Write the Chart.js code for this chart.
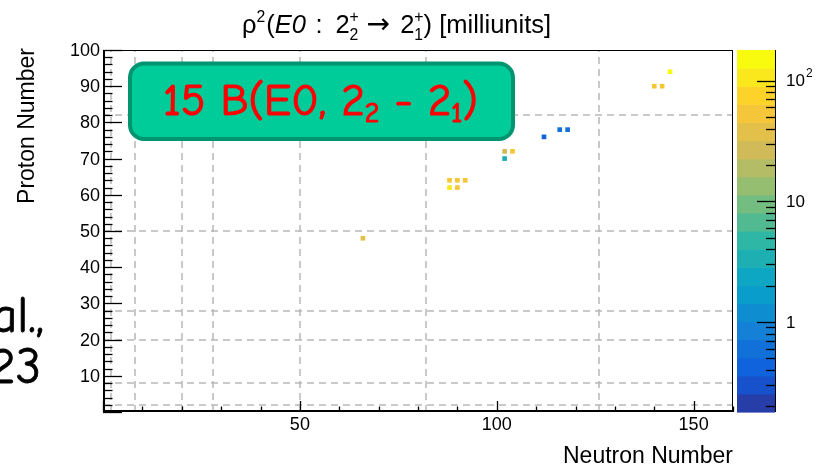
<!DOCTYPE html>
<html>
<head>
<meta charset="utf-8">
<script src="https://cdn.jsdelivr.net/npm/chart.js@4.4.0/dist/chart.umd.min.js"></script>
<style>
  html, body { margin: 0; padding: 0; background: #ffffff; overflow: hidden; }
  canvas { display: block; }
</style>
</head>
<body>
<canvas id="chart" width="823" height="467"></canvas>
<script>
// Even-even nuclei with a measured E0(2_2+ -> 2_1+) strength
const neutronNumber = [66, 88, 90, 92, 88, 90, 102, 102, 104, 112, 116, 118, 140, 142, 144];
const protonNumber  = [48, 64, 64, 64, 62, 62,  70,  72,  72,  76,  78,  78,  90,  90,  94];
// rho^2(E0) in milliunits
const rho2          = [38, 55, 55, 55, 105, 55, 3.4, 27, 55, 0.45, 0.55, 0.65, 55, 55, 150];

// Shell closures marked by dashed lines
const magicN = [2, 8, 20, 28, 50, 82, 126];
const magicZ = [2, 8, 20, 28, 50, 82];

// Axis ticks
const xMajorTicks = [0, 50, 100, 150];
const xTickLabels = [50, 100, 150];
const yTickLabels = [10, 20, 30, 40, 50, 60, 70, 80, 90, 100];
const zTickValues = [1, 10, 100];
const zTickText   = ['1', '10', '10'];
const zTickSup    = ['', '', '2'];

// Colour scale (log z, 20 contour levels, "bird" palette)
const zMin = 0.179, zMax = 179, nContours = 20;
const birdR = [0.2082, 0.0592, 0.0780, 0.0232, 0.1802, 0.5301, 0.8186, 0.9956, 0.9764];
const birdG = [0.1664, 0.3599, 0.5041, 0.6419, 0.7178, 0.7492, 0.7328, 0.7862, 0.9832];
const birdB = [0.5293, 0.8684, 0.8385, 0.7914, 0.6425, 0.4662, 0.3499, 0.1968, 0.0539];

function birdColor(t) {
  const seg = Math.min(7, Math.floor(t * 8));
  const f = t * 8 - seg;
  const c = (arr) => Math.round(255 * (arr[seg] + (arr[seg + 1] - arr[seg]) * f));
  return `rgb(${c(birdR)},${c(birdG)},${c(birdB)})`;
}
function contourColor(i) {
  const idx = Math.floor((i + 0.99) * 255 / nContours);
  return birdColor(Math.min(254, idx) / 254);
}
function contourOf(v) {
  const f = (Math.log10(v) - Math.log10(zMin)) / (Math.log10(zMax) - Math.log10(zMin));
  return Math.max(0, Math.min(nContours - 1, Math.floor(f * nContours)));
}

const points = neutronNumber.map((n, i) => ({ x: n, y: protonNumber[i] }));
const pointColors = rho2.map(v => contourColor(contourOf(v)));

const SANS = '"Liberation Sans", Arial, Helvetica, sans-serif';
const SYMB = '"DejaVu Sans", sans-serif';
const HAND = '"Comic Sans MS", "Comic Neue", Lato, sans-serif';

// Lay out a run of text pieces; stacked pieces put a superscript and subscript on one column
function layoutRich(ctx, parts, size, family) {
  let w = 0;
  parts.forEach(p => {
    const fam = p.family || family;
    if (p.stack) {
      ctx.font = `${size * 0.62}px ${fam}`;
      p.w = Math.max(ctx.measureText(p.sup).width, ctx.measureText(p.sub).width);
    } else {
      const s = size * (p.scale || 1);
      ctx.font = `${p.italic ? 'italic ' : ''}${s}px ${fam}`;
      p.w = ctx.measureText(p.t).width;
    }
    w += p.w + (p.gap || 0) * size;
  });
  return w;
}
function drawRich(ctx, parts, size, family, x, baseline, thicken) {
  let cx = x;
  parts.forEach(p => {
    const fam = p.family || family;
    if (p.stack) {
      ctx.font = `${size * 0.62}px ${fam}`;
      ctx.fillText(p.sup, cx, baseline - size * 0.42);
      ctx.fillText(p.sub, cx, baseline + size * 0.28);
    } else {
      const s = size * (p.scale || 1);
      ctx.font = `${p.italic ? 'italic ' : ''}${s}px ${fam}`;
      const yy = baseline + (p.dy || 0) * size;
      ctx.fillText(p.t, cx, yy);
      if (thicken) ctx.strokeText(p.t, cx, yy);
    }
    cx += p.w + (p.gap || 0) * size;
  });
}
function roundRect(ctx, x, y, w, h, r) {
  ctx.beginPath();
  ctx.moveTo(x + r, y);
  ctx.arcTo(x + w, y, x + w, y + h, r);
  ctx.arcTo(x + w, y + h, x, y + h, r);
  ctx.arcTo(x, y + h, x, y, r);
  ctx.arcTo(x, y, x + w, y, r);
  ctx.closePath();
}

const rootStyle = {
  id: 'rootStyle',
  beforeDatasetsDraw(chart) {
    const { ctx, chartArea: a, scales: { x, y } } = chart;
    ctx.save();
    ctx.strokeStyle = '#b8b8b8';
    ctx.lineWidth = 1.5;
    ctx.setLineDash([7, 5]);
    magicN.forEach(n => {
      const px = Math.round(x.getPixelForValue(n));
      ctx.beginPath(); ctx.moveTo(px, a.bottom); ctx.lineTo(px, a.top); ctx.stroke();
    });
    magicZ.forEach(z => {
      const py = Math.round(y.getPixelForValue(z));
      ctx.beginPath(); ctx.moveTo(a.left, py); ctx.lineTo(a.right, py); ctx.stroke();
    });
    ctx.restore();
  },
  afterDatasetsDraw(chart) {
    const { ctx, chartArea: a, scales: { x, y, z } } = chart;
    ctx.save();

    // frame and axes
    ctx.strokeStyle = '#000';
    ctx.lineWidth = 1;
    ctx.strokeRect(a.left + 0.5, a.top + 0.5, a.right - a.left - 1, a.bottom - a.top - 1);
    ctx.lineWidth = 2;
    ctx.beginPath();
    ctx.moveTo(a.left + 1, a.top); ctx.lineTo(a.left + 1, a.bottom - 1); ctx.lineTo(a.right, a.bottom - 1);
    ctx.stroke();

    // y ticks: major every 10, minor every 2
    ctx.lineWidth = 1.3;
    for (let v = 0; v <= 100; v += 2) {
      const py = Math.round(y.getPixelForValue(v)) + 0.5;
      const len = v % 10 === 0 ? 19 : 9.5;
      ctx.beginPath(); ctx.moveTo(a.left, py); ctx.lineTo(a.left + len, py); ctx.stroke();
    }
    // x ticks: major every 50, minor every 10
    for (let v = 0; v <= 160; v += 10) {
      const px = Math.round(x.getPixelForValue(v)) + 0.5;
      const len = xMajorTicks.includes(v) ? 11 : 5.5;
      ctx.beginPath(); ctx.moveTo(px, a.bottom); ctx.lineTo(px, a.bottom - len); ctx.stroke();
    }

    // tick labels
    ctx.fillStyle = '#000';
    ctx.font = `18px ${SANS}`;
    ctx.textAlign = 'right';
    ctx.textBaseline = 'middle';
    yTickLabels.forEach(v => ctx.fillText(String(v), a.left - 3, y.getPixelForValue(v) + 1));
    ctx.textAlign = 'center';
    ctx.textBaseline = 'top';
    xTickLabels.forEach(v => ctx.fillText(String(v), x.getPixelForValue(v), a.bottom + 4));

    // axis titles
    ctx.font = `23px ${SANS}`;
    ctx.textAlign = 'right';
    ctx.textBaseline = 'middle';
    ctx.fillText('Neutron Number', a.right, 457);
    ctx.save();
    ctx.translate(28, a.top - 2);
    ctx.rotate(-Math.PI / 2);
    ctx.fillText('Proton Number', 0, 0);
    ctx.restore();

    // colour bar
    const barL = 737, barR = 775;
    const lmin = Math.log10(zMin), step = (Math.log10(zMax) - lmin) / nContours;
    for (let i = 0; i < nContours; i++) {
      const lo = z.getPixelForValue(Math.pow(10, lmin + i * step));
      const hi = z.getPixelForValue(Math.pow(10, lmin + (i + 1) * step));
      ctx.fillStyle = contourColor(i);
      ctx.fillRect(barL, hi, barR - barL, lo - hi + 0.6);
    }
    ctx.strokeStyle = '#000';
    ctx.lineWidth = 1;
    ctx.beginPath(); ctx.moveTo(barR + 0.5, z.top); ctx.lineTo(barR + 0.5, z.bottom); ctx.stroke();
    ctx.lineWidth = 1.3;
    for (let d = -1; d <= 2; d++) {
      for (let m = 1; m <= 9; m++) {
        const v = m * Math.pow(10, d);
        if (v < zMin || v > zMax) continue;
        const py = Math.round(z.getPixelForValue(v)) + 0.5;
        const len = m === 1 ? 18 : 9;
        ctx.beginPath(); ctx.moveTo(barR, py); ctx.lineTo(barR - len, py); ctx.stroke();
      }
    }
    ctx.fillStyle = '#000';
    ctx.textAlign = 'left';
    ctx.textBaseline = 'middle';
    zTickValues.forEach((v, i) => {
      const py = z.getPixelForValue(v) + 1;
      ctx.font = `17px ${SANS}`;
      ctx.fillText(zTickText[i], 786, py);
      if (zTickSup[i]) {
        const w = ctx.measureText(zTickText[i]).width;
        ctx.font = `12px ${SANS}`;
        ctx.fillText(zTickSup[i], 786 + w + 1, py - 8);
      }
    });

    // title
    ctx.textAlign = 'left';
    ctx.textBaseline = 'alphabetic';
    const titleParts = [
      { t: 'ρ' }, { t: '2', scale: 0.62, dy: -0.42, gap: 0.04 }, { t: '(' },
      { t: 'E0', italic: true, gap: 0.38 }, { t: ':', gap: 0.5 }, { t: '2' },
      { stack: true, sup: '+', sub: '2', gap: 0.3 },
      { t: '→', family: SYMB, scale: 1.1, gap: 0.4 }, { t: '2' },
      { stack: true, sup: '+', sub: '1' }, { t: ') [milliunits]' }
    ];
    const tSize = 25.5;
    const tw = layoutRich(ctx, titleParts, tSize, SANS);
    drawRich(ctx, titleParts, tSize, SANS, 396.5 - tw / 2, 33);

    // annotation box
    roundRect(ctx, 130, 63.5, 383, 75.5, 14);
    ctx.fillStyle = '#00cc99';
    ctx.fill();
    ctx.strokeStyle = '#009470';
    ctx.lineWidth = 4;
    ctx.stroke();
    const boxParts = [
      { t: '15 B(E0, 2' }, { t: '2', scale: 0.62, dy: 0.16 }, { t: ' - 2' },
      { t: '1', scale: 0.62, dy: 0.16 }, { t: ')' }
    ];
    let bSize = 40;
    const bw0 = layoutRich(ctx, boxParts, bSize, HAND);
    bSize = Math.min(48, bSize * 315 / bw0);
    const bw = layoutRich(ctx, boxParts, bSize, HAND);
    ctx.fillStyle = '#ff0000';
    ctx.strokeStyle = '#ff0000';
    ctx.lineWidth = 1.2;
    ctx.lineJoin = 'round';
    drawRich(ctx, boxParts, bSize, HAND, 320.5 - bw / 2, 115, true);

    // citation fragment at the left edge
    ctx.fillStyle = '#000';
    ctx.strokeStyle = '#000';
    ctx.lineWidth = 0.8;
    ctx.font = `50px ${HAND}`;
    ctx.textAlign = 'right';
    ctx.fillText('al.,', 44, 332);
    ctx.strokeText('al.,', 44, 332);
    ctx.fillText('23', 41, 383);
    ctx.strokeText('23', 41, 383);

    ctx.restore();
  }
};

new Chart(document.getElementById('chart'), {
  type: 'scatter',
  data: {
    datasets: [{
      data: points,
      pointStyle: 'rect',
      pointRadius: 3.3,
      pointHoverRadius: 3.3,
      backgroundColor: pointColors,
      borderWidth: 0
    }]
  },
  options: {
    responsive: false,
    animation: false,
    events: [],
    layout: { padding: { left: 103, right: 90, top: 50, bottom: 55 } },
    plugins: { legend: { display: false }, tooltip: { enabled: false } },
    scales: {
      x: { type: 'linear', min: 0, max: 160, display: false },
      y: { type: 'linear', min: 0, max: 100, display: false },
      z: { type: 'logarithmic', axis: 'y', position: 'right', min: zMin, max: zMax, display: false }
    }
  },
  plugins: [rootStyle]
});
</script>
</body>
</html>
